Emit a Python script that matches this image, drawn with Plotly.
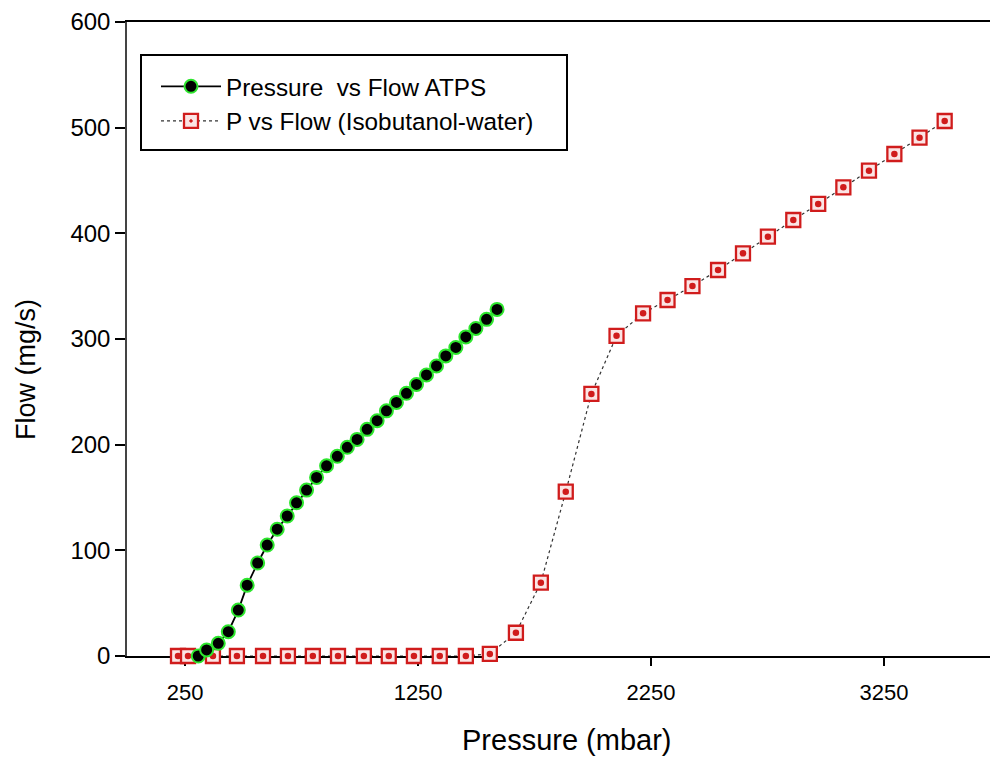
import plotly.graph_objects as go

# ATPS series (Pressure in mbar, Flow in mg/s)
atps_pressure = [306, 342, 392, 435, 478, 516, 561, 602, 645, 688, 728, 771, 814, 857,
                 903, 946, 988, 1031, 1074, 1114, 1157, 1200, 1243, 1286, 1329, 1369,
                 1412, 1455, 1498, 1544, 1589]
atps_flow = [0, 5.7, 12, 23, 43.5, 67, 88, 105, 120, 132.5, 145, 157, 169, 180,
             189, 197.5, 205, 214.5, 222.7, 232, 240, 248.6, 257, 266, 274.5, 284,
             292, 302, 310, 318.6, 328]

# Isobutanol-water series
iso_pressure = [219, 262, 369, 472, 584, 691, 798, 906, 1017, 1124, 1232, 1343, 1455, 1558,
                1670, 1777, 1884, 1994, 2102,
                2216, 2321, 2428, 2538, 2645, 2752, 2861, 2968, 3076, 3186, 3295, 3403, 3511]
iso_flow = [0, 0, 0, 0, 0, 0, 0, 0, 0, 0, 0, 0, 0, 2,
            22, 69.4, 155.5, 248, 303,
            324.3, 336.9, 350.1, 365.3, 381.1, 396.8, 412.6, 427.8, 443.5, 459.3, 475.1, 490.5, 506.3]

x_ticks = [250, 1250, 2250, 3250]
y_ticks = [0, 100, 200, 300, 400, 500, 600]

FONT = "Liberation Sans, Arial, sans-serif"
RED = "#d01c1c"

# page offset (body margin) compensation
OFF = 8
L, T = 127 - OFF, 22 - OFF
W, H = 998, 758
PW = W - L          # plot area runs to the right edge of the figure
PH = 634
R = 0
B = H - T - PH
X_MAX = 3740 * PW / 871.0


def px(xp):
    return (xp - 127) / PW


def py(yp):
    return (656 - yp) / PH


fig = go.Figure()

fig.add_trace(go.Scatter(
    x=iso_pressure, y=iso_flow, mode="lines+markers",
    name="P vs Flow (Isobutanol-water)",
    line=dict(color="#333333", width=1.2, dash="dot"),
    marker=dict(symbol="square-dot", size=14, color="#fbe4e4",
                line=dict(color=RED, width=2.3)),
    cliponaxis=False, legendrank=2,
))
fig.add_trace(go.Scatter(
    x=iso_pressure, y=iso_flow, mode="markers", showlegend=False, hoverinfo="skip",
    marker=dict(symbol="circle", size=6.5, color=RED),
    cliponaxis=False,
))
fig.add_trace(go.Scatter(
    x=atps_pressure, y=atps_flow, mode="lines+markers",
    name="Pressure  vs Flow ATPS",
    line=dict(color="black", width=1.8),
    marker=dict(symbol="circle", size=13, color="black",
                line=dict(color="#2ee62e", width=2)),
    cliponaxis=False, legendrank=1,
))

fig.update_layout(
    width=W, height=H,
    margin=dict(l=L, r=R, t=T, b=B, autoexpand=False),
    paper_bgcolor="white", plot_bgcolor="white",
    font=dict(family=FONT, color="black"),
    showlegend=True,
    legend=dict(
        x=px(156), y=py(64), xanchor="left", yanchor="top",
        bgcolor="rgba(0,0,0,0)", borderwidth=0,
        font=dict(size=24.3, family=FONT, color="black"),
        itemwidth=60, tracegroupgap=0,
    ),
    xaxis=dict(
        range=[0, X_MAX], tickvals=x_ticks, ticktext=[str(v) for v in x_ticks],
        showgrid=False, zeroline=False, showline=True, linecolor="black", linewidth=2,
        mirror=True, ticks="outside", ticklen=8, tickwidth=2, tickcolor="black",
        tickfont=dict(size=22, family=FONT), layer="below traces",
        ticklabelstandoff=8,
    ),
    yaxis=dict(
        range=[0, 600], tickvals=y_ticks,
        showgrid=False, zeroline=False, showline=True, linecolor="#444444", linewidth=1.5,
        ticks="outside", ticklen=10, tickwidth=1.5, tickcolor="black",
        tickfont=dict(size=24, family=FONT), layer="below traces",
    ),
    shapes=[dict(type="rect", xref="paper", yref="paper",
                 x0=px(141), x1=px(567), y0=py(150), y1=py(55),
                 line=dict(color="black", width=2), fillcolor="rgba(0,0,0,0)")],
    annotations=[
        dict(text="Pressure (mbar)", xref="paper", yref="paper",
             x=px(567), y=py(740), xanchor="center", yanchor="middle",
             showarrow=False, font=dict(size=29, family=FONT)),
        dict(text="Flow (mg/s)", xref="paper", yref="paper",
             x=px(26), y=py(370), xanchor="center", yanchor="middle",
             textangle=-90, showarrow=False, font=dict(size=27, family=FONT)),
    ],
)

fig.write_html("out.html")
